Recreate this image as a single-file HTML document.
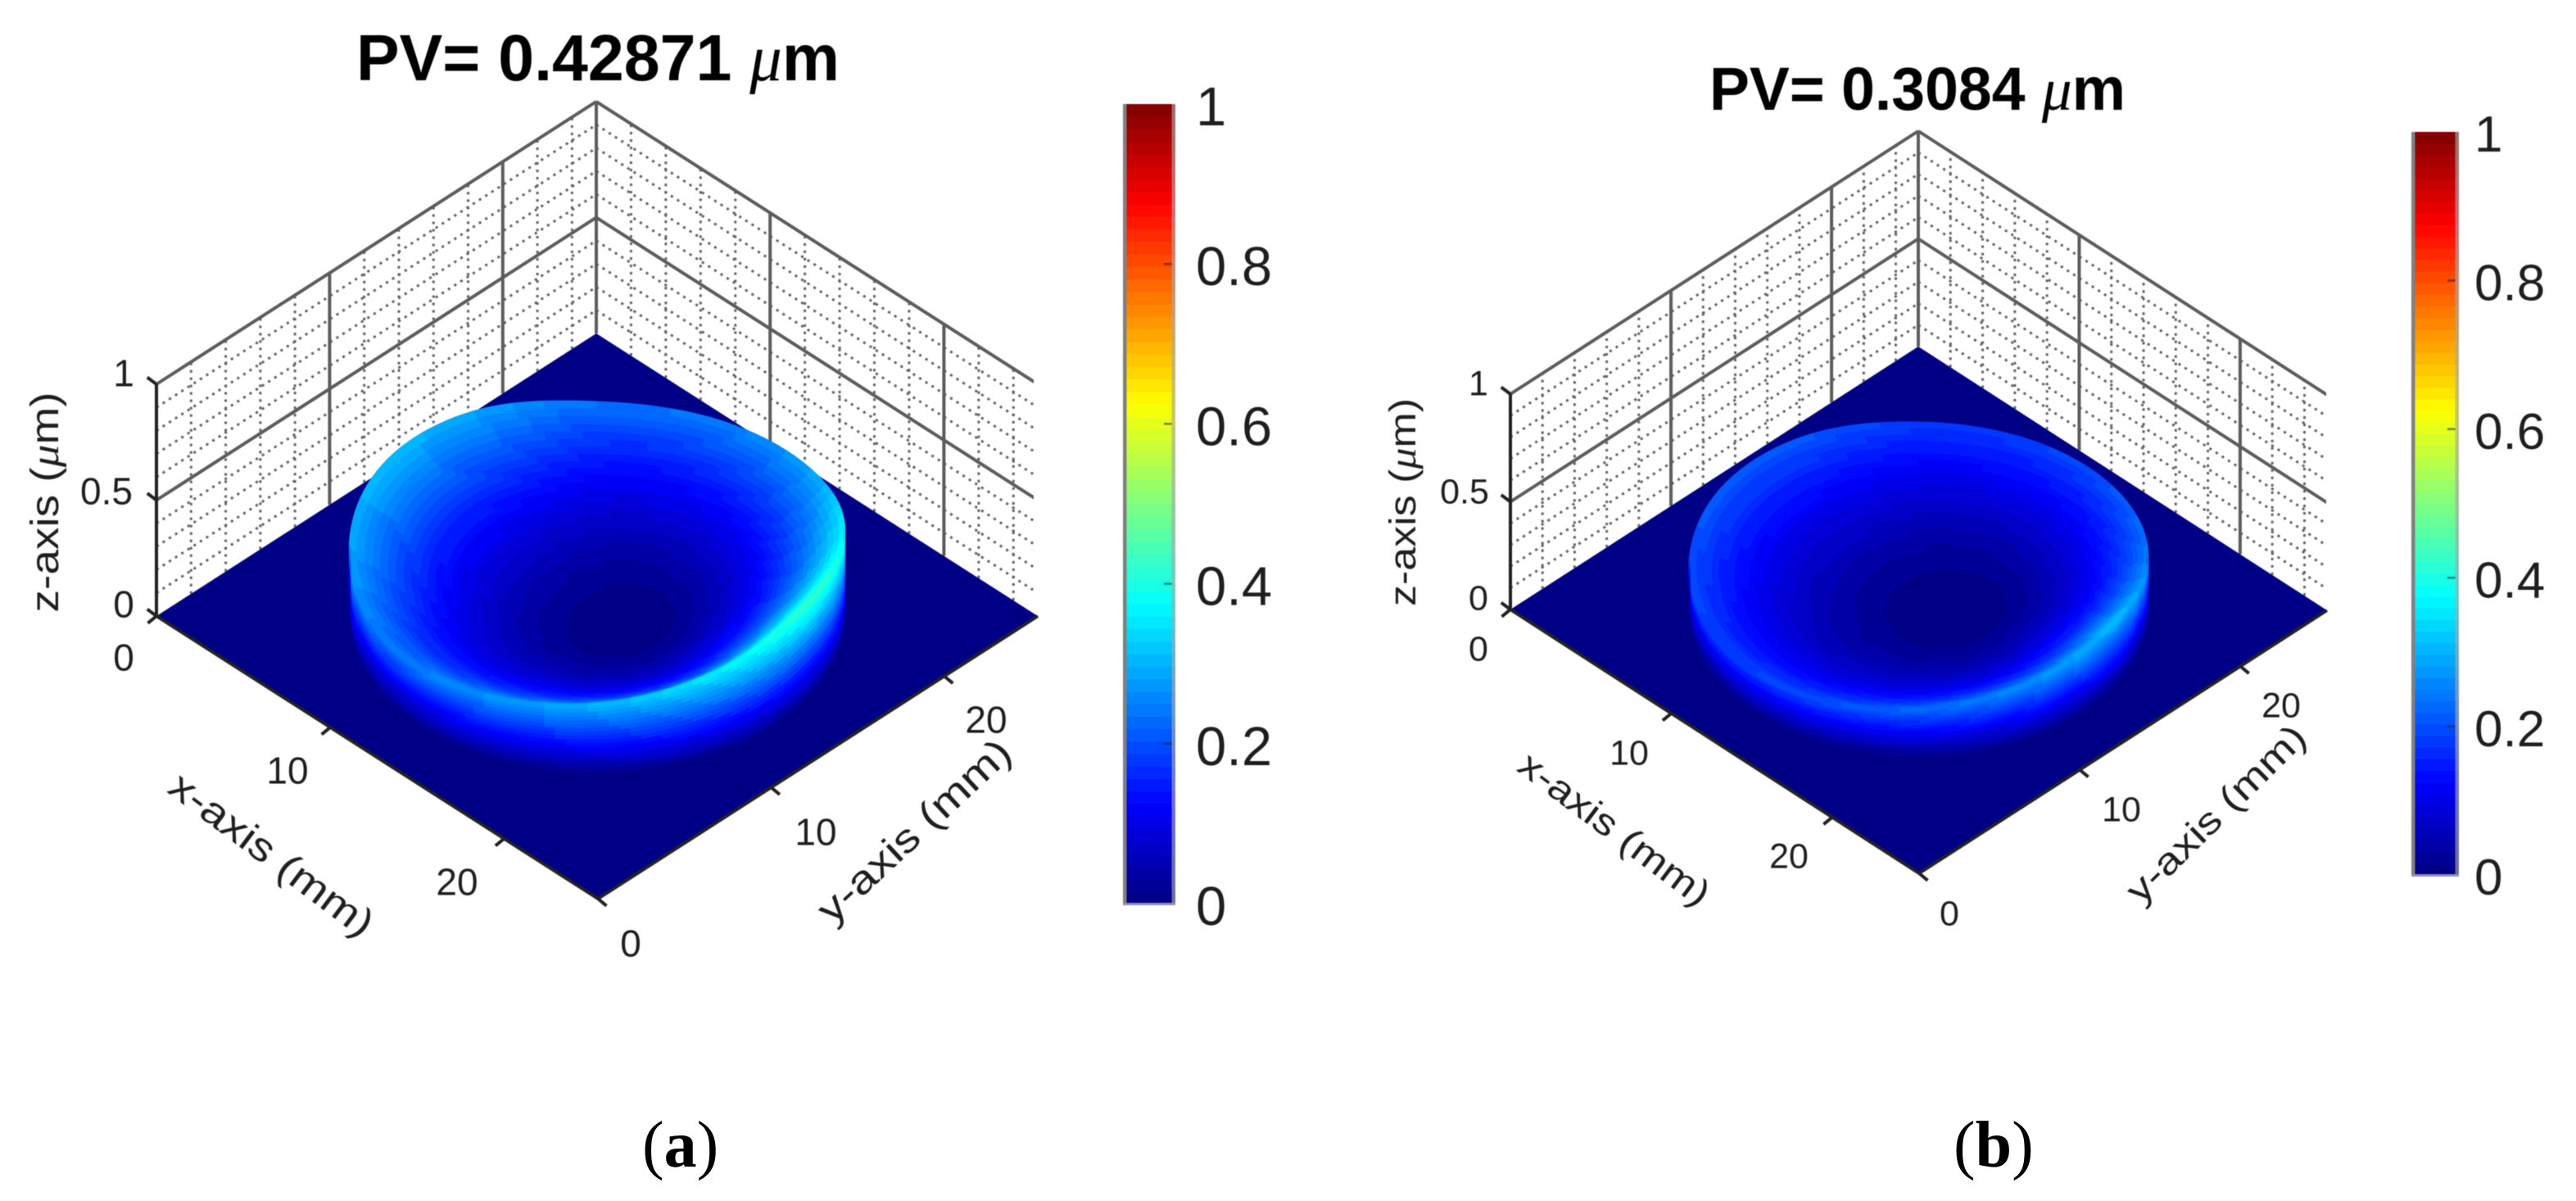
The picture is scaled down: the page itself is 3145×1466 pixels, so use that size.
<!DOCTYPE html>
<html lang="en">
<head>
<meta charset="utf-8">
<title>PV surface maps</title>
<style>
html,body{margin:0;padding:0;background:#fff;}
body{width:3145px;height:1466px;overflow:hidden;}
svg{display:block;}
text{font-family:"Liberation Sans",sans-serif;fill:#1e1e1e;}
.title{font-weight:bold;fill:#000;}
.mu{font-family:"Liberation Serif",serif;font-style:italic;font-weight:normal;}
.cap{font-family:"Liberation Serif",serif;fill:#000;}
#plots{filter:blur(0.55px);}
</style>
</head>
<body>
<svg id="figure" xmlns="http://www.w3.org/2000/svg" width="3145" height="1466" viewBox="0 0 3145 1466">
  <rect width="3145" height="1466" fill="#fff"/>
  <g id="plots">
    <g id="panel-a"></g>
    <g id="panel-b"></g>
    <text class="title" x="435" y="98" font-size="80" textLength="590" lengthAdjust="spacingAndGlyphs">PV= 0.42871 <tspan class="mu">μ</tspan>m</text>
    <text class="title" x="2087" y="134" font-size="74" textLength="508" lengthAdjust="spacingAndGlyphs">PV= 0.3084 <tspan class="mu">μ</tspan>m</text>
    <text font-size="48" text-anchor="middle" transform="translate(71,613) rotate(-90)" textLength="269" lengthAdjust="spacingAndGlyphs">z-axis  (<tspan class="mu">μ</tspan>m)</text>
    <text font-size="48" text-anchor="middle" transform="translate(322,1056) rotate(37)" textLength="299" lengthAdjust="spacingAndGlyphs">x-axis (mm)</text>
    <text font-size="48" text-anchor="middle" transform="translate(1127,1026) rotate(-43)" textLength="304" lengthAdjust="spacingAndGlyphs">y-axis (mm)</text>
    <text font-size="45" text-anchor="middle" transform="translate(1728,613) rotate(-90)" textLength="254" lengthAdjust="spacingAndGlyphs">z-axis  (<tspan class="mu">μ</tspan>m)</text>
    <text font-size="45" text-anchor="middle" transform="translate(1962,1024) rotate(37)" textLength="280" lengthAdjust="spacingAndGlyphs">x-axis (mm)</text>
    <text font-size="45" text-anchor="middle" transform="translate(2716,1004) rotate(-44.6)" textLength="288" lengthAdjust="spacingAndGlyphs">y-axis (mm)</text>
  </g>
  <text class="cap" x="784" y="1424" font-size="80">(<tspan font-weight="bold">a</tspan>)</text>
  <text class="cap" x="2385" y="1424" font-size="80">(<tspan font-weight="bold">b</tspan>)</text>
</svg>
<script>
// ---------- data ----------
const axisRangeMm = 25.4;
const zTickValues = [0, 0.5, 1];
const zTickLabels = ["0", "0.5", "1"];
const xTickValues = [0, 10, 20];
const xTickLabels = ["0", "10", "20"];
const yTickValues = [0, 10, 20];
const yTickLabels = ["0", "10", "20"];
const minorGridMm = [2, 4, 6, 8, 12, 14, 16, 18, 22, 24];
const minorGridZ = [0.1, 0.2, 0.3, 0.4, 0.6, 0.7, 0.8, 0.9];
const colorbarTicks = [0, 0.2, 0.4, 0.6, 0.8, 1];
const colorbarLabels = ["0", "0.2", "0.4", "0.6", "0.8", "1"];
const colorLevels = 64;

// rim of the disc: view angle round the rim (0 = right, 90 = front) and height in um
const rimViewAnglesDeg = [0, 30, 60, 90, 120, 150, 180, 210, 240, 270, 300, 330];
const rimHeightsA = [0.37, 0.4287, 0.37, 0.31, 0.27, 0.25, 0.29, 0.31, 0.29, 0.24, 0.25, 0.29];
const rimHeightsB = [0.25, 0.3084, 0.27, 0.23, 0.20, 0.19, 0.20, 0.215, 0.21, 0.185, 0.19, 0.21];
// bowl profile: fraction of the way from lowest point to rim, and fraction of rim height
const bowlRadialFraction = [0, 0.1, 0.2, 0.3, 0.4, 0.5, 0.6, 0.7, 0.8, 0.9, 1];
const bowlHeightFraction = [0, 0.01, 0.04, 0.09, 0.16, 0.25, 0.36, 0.49, 0.64, 0.81, 1];
const discCentreMm = [12.7, 12.7];
const discRadiusMm = [10.1];
const lowestPointA = [14.26, 13.08];
const lowestPointB = [14.3, 13.7];

// ---------- layout ----------
const layoutA = {
  group: 'panel-a', left: [191, 752], top: [728, 407], bottom: [730, 1097], right: [1266, 752],
  zScale: 283, clipX: 1262, tickFont: 46, cbFont: 67,
  cb: {x0: 1371, x1: 1435, top: 127, bottom: 1103, labelX: 1460},
  zLabelPos: [[151, 737], [130, 599], [151, 455]],
  xLabelPos: [[151, 802], [351, 940], [558, 1076]],
  yLabelPos: [[770, 1151], [996, 1015], [1204, 878]]
};
const layoutB = {
  group: 'panel-b', left: [1844, 744], top: [2342, 423], bottom: [2343, 1066], right: [2844, 744],
  zScale: 263, clipX: 2840, tickFont: 43, cbFont: 62,
  cb: {x0: 2944, x1: 3002, top: 161, bottom: 1068, labelX: 3021},
  zLabelPos: [[1805, 729], [1788, 599], [1805, 467]],
  xLabelPos: [[1805, 791], [1989, 918], [2184, 1044]],
  yLabelPos: [[2380, 1114], [2590, 987], [2785, 860]]
};

const NS = 'http://www.w3.org/2000/svg';
function make(tag, attrs, parent) {
  const el = document.createElementNS(NS, tag);
  for (const k in attrs) el.setAttribute(k, attrs[k]);
  parent.appendChild(el);
  return el;
}
function jet(z) {
  const idx = Math.max(0, Math.min(colorLevels - 1, Math.floor(z * colorLevels)));
  const v = (idx + 0.5) / colorLevels;
  const ch = c => Math.round(255 * Math.max(0, Math.min(1, 1.5 - Math.abs(4 * v - c))));
  return 'rgb(' + ch(3) + ',' + ch(2) + ',' + ch(1) + ')';
}
function makeProjection(L) {
  return function (x, y, z) {
    const u = x / axisRangeMm, w = y / axisRangeMm;
    return [
      L.left[0] + u * (L.bottom[0] - L.left[0]) + w * (L.top[0] - L.left[0]),
      L.left[1] + u * (L.bottom[1] - L.left[1]) + w * (L.top[1] - L.left[1]) - z * L.zScale
    ];
  };
}
function rimHeightAt(heights, deg) {
  const n = heights.length;
  const step = rimViewAnglesDeg[1] - rimViewAnglesDeg[0];
  const p = (((deg - rimViewAnglesDeg[0]) % 360) + 360) % 360 / step;
  const i = Math.floor(p), t = p - i;
  const a = heights[(i - 1 + n) % n], b = heights[i % n], c = heights[(i + 1) % n], d = heights[(i + 2) % n];
  return 0.5 * (2 * b + (c - a) * t + (2 * a - 5 * b + 4 * c - d) * t * t + (3 * b - a - 3 * c + d) * t * t * t);
}
function bowlFraction(t) {
  const n = bowlRadialFraction.length;
  for (let i = 1; i < n; i++) {
    if (t <= bowlRadialFraction[i]) {
      const f = (t - bowlRadialFraction[i - 1]) / (bowlRadialFraction[i] - bowlRadialFraction[i - 1]);
      return bowlHeightFraction[i - 1] + f * (bowlHeightFraction[i] - bowlHeightFraction[i - 1]);
    }
  }
  return bowlHeightFraction[n - 1];
}
function ptsAttr(pts) {
  return pts.map(p => p[0].toFixed(1) + ',' + p[1].toFixed(1)).join(' ');
}

function drawPanel(L, rimHeights, lowest) {
  const g = document.getElementById(L.group);
  const proj = makeProjection(L);
  const R = axisRangeMm;

  // ----- walls -----
  const clipId = L.group + '-clip';
  const defs = make('defs', {}, g);
  const clip = make('clipPath', {id: clipId}, defs);
  make('rect', {x: 0, y: 0, width: L.clipX, height: 1466}, clip);
  const walls = make('g', {'clip-path': 'url(#' + clipId + ')'}, g);
  
  

  const minorStyle = {stroke: '#666', 'stroke-width': 3, 'stroke-dasharray': '3.2 5.8', fill: 'none'};
  function seg(a, b, style) {
    return make('line', Object.assign({x1: a[0], y1: a[1], x2: b[0], y2: b[1]}, style), walls);
  }
  minorGridMm.forEach(m => {
    const l1 = seg(proj(0, m, 0), proj(0, m, 1), minorStyle);
    
    
    const l2 = seg(proj(m, R, 0), proj(m, R, 1), minorStyle);
    
    
  });
  minorGridZ.forEach(z => {
    const l1 = seg(proj(0, 0, z), proj(0, R, z), minorStyle);
    
    
    const l2 = seg(proj(0, R, z), proj(R, R, z), minorStyle);
    
    
  });
  const majorStyle = {stroke: '#5c5c5c', 'stroke-width': 4, fill: 'none'};
  xTickValues.slice(1).forEach(m => {
    const l = seg(proj(m, R, 0), proj(m, R, 1), majorStyle);
    
    
  });
  yTickValues.slice(1).forEach(m => {
    const l = seg(proj(0, m, 0), proj(0, m, 1), majorStyle);
    
    
  });
  zTickValues.slice(1).forEach(z => {
    const l1 = seg(proj(0, 0, z), proj(0, R, z), majorStyle);
    
    
    const l2 = seg(proj(0, R, z), proj(R, R, z), majorStyle);
    
    
  });
  const apexLine = seg(proj(0, R, 0), proj(0, R, 1), majorStyle);
  
  

  // ----- floor -----
  const floor = make('polygon', {points: ptsAttr([proj(0, 0, 0), proj(R, 0, 0), proj(R, R, 0), proj(0, R, 0)]), fill: jet(0)}, g);
  
  

  // ----- bowl surface -----
  const surface = make('g', {}, g);
  
  
  const nA = 144, nT = 36;
  function rimPoint(deg) {
    const psi = (45 - deg) * Math.PI / 180;
    return [discCentreMm[0] + discRadiusMm[0] * Math.cos(psi), discCentreMm[1] + discRadiusMm[0] * Math.sin(psi)];
  }
  function bowlPoint(deg, t) {
    const rp = rimPoint(deg);
    return [
      lowest[0] + t * (rp[0] - lowest[0]),
      lowest[1] + t * (rp[1] - lowest[1]),
      rimHeightAt(rimHeights, deg) * bowlFraction(t)
    ];
  }
  const cells = [];
  for (let j = 0; j < nA; j++) {
    const d0 = j * 360 / nA, d1 = (j + 1) * 360 / nA;
    for (let i = 0; i < nT; i++) {
      const t0 = i / nT, t1 = (i + 1) / nT;
      const q = [bowlPoint(d0, t0), bowlPoint(d1, t0), bowlPoint(d1, t1), bowlPoint(d0, t1)];
      const zMid = (q[0][2] + q[1][2] + q[2][2] + q[3][2]) / 4;
      const depth = (q[0][0] - q[0][1] + q[2][0] - q[2][1]) / 2;
      cells.push({q: q, z: zMid, depth: depth});
    }
  }
  cells.sort((a, b) => a.depth - b.depth);
  cells.forEach(c => {
    const col = jet(c.z);
    const el = make('polygon', {points: ptsAttr(c.q.map(p => proj(p[0], p[1], p[2]))), fill: col, stroke: col, 'stroke-width': 1}, surface);
    
    
  });

  // ----- skirt: vertical wall from rim to floor on the near side -----
  const skirt = make('g', {}, g);
  
  
  const nS = 18;
  for (let j = -2; j < nA / 2 + 2; j++) {
    const d0 = j * 360 / nA, d1 = (j + 1) * 360 / nA;
    const r0 = rimPoint(d0), r1 = rimPoint(d1);
    const h0 = rimHeightAt(rimHeights, d0), h1 = rimHeightAt(rimHeights, d1);
    for (let k = 0; k < nS; k++) {
      const f0 = k / nS, f1 = (k + 1) / nS;
      const col = jet((h0 + h1) / 2 * (f0 + f1) / 2);
      const el = make('polygon', {
        points: ptsAttr([proj(r0[0], r0[1], h0 * f0), proj(r1[0], r1[1], h1 * f0), proj(r1[0], r1[1], h1 * f1), proj(r0[0], r0[1], h0 * f1)]),
        fill: col, stroke: col, 'stroke-width': 1
      }, skirt);
      
      
    }
  }

  // ----- axes -----
  const axisStyle = {stroke: '#222', 'stroke-width': 4, fill: 'none'};
  function axisLine(a, b) {
    return make('line', Object.assign({x1: a[0], y1: a[1], x2: b[0], y2: b[1]}, axisStyle), g);
  }
  const xLine = axisLine(proj(0, 0, 0), proj(R, 0, 0));
  
  
  const yLine = axisLine(proj(R, 0, 0), proj(R, R, 0));
  
  
  const zLine = axisLine(proj(0, 0, 0), proj(0, 0, 1));
  
  

  const tickLen = 14;
  xTickValues.forEach((v, i) => {
    const p = proj(v, 0, 0);
    const t = axisLine(p, [p[0] - tickLen * 0.75, p[1] + tickLen * 0.62]);
    
    
    const lab = make('text', {x: L.xLabelPos[i][0], y: L.xLabelPos[i][1] + L.tickFont * 0.358, 'font-size': L.tickFont, 'text-anchor': 'middle'}, g);
    lab.textContent = xTickLabels[i];
    
    
  });
  yTickValues.forEach((v, i) => {
    const p = proj(R, v, 0);
    const t = axisLine(p, [p[0] + tickLen * 0.75, p[1] + tickLen * 0.62]);
    
    
    const lab = make('text', {x: L.yLabelPos[i][0], y: L.yLabelPos[i][1] + L.tickFont * 0.358, 'font-size': L.tickFont, 'text-anchor': 'middle'}, g);
    lab.textContent = yTickLabels[i];
    
    
  });
  zTickValues.forEach((v, i) => {
    const p = proj(0, 0, v);
    const t = axisLine(p, [p[0] - tickLen * 0.8, p[1] - tickLen * 0.6]);
    
    
    const lab = make('text', {x: L.zLabelPos[i][0], y: L.zLabelPos[i][1] + L.tickFont * 0.358, 'font-size': L.tickFont, 'text-anchor': 'middle'}, g);
    lab.textContent = zTickLabels[i];
    
    
  });

  // ----- colorbar -----
  const cb = L.cb;
  const cbGroup = make('g', {}, g);
  
  
  const cbY = v => cb.bottom - v * (cb.bottom - cb.top);
  for (let i = 0; i < colorLevels; i++) {
    const v0 = i / colorLevels, v1 = (i + 1) / colorLevels;
    const band = make('rect', {x: cb.x0, y: cbY(v1), width: cb.x1 - cb.x0, height: cbY(v0) - cbY(v1) + 0.6, fill: jet((v0 + v1) / 2)}, cbGroup);
    
    
  }
  const cbLeft = make('rect', {x: cb.x0, y: cb.top, width: 4.5, height: cb.bottom - cb.top, fill: '#808080'}, cbGroup);
  
  
  const cbRight = make('rect', {x: cb.x1 - 4.5, y: cb.top, width: 4.5, height: cb.bottom - cb.top, fill: '#a8a8a8', 'fill-opacity': 0.65}, cbGroup);
  
  
  const cbBottom = make('rect', {x: cb.x0, y: cb.bottom - 1, width: cb.x1 - cb.x0, height: 3, fill: '#9090b0'}, cbGroup);
  
  
  colorbarTicks.forEach((v, i) => {
    if (v > 0 && v < 1) {
      const tk = make('line', {x1: cb.x1 - 14, x2: cb.x1 - 4.5, y1: cbY(v), y2: cbY(v), stroke: '#222', 'stroke-opacity': 0.6, 'stroke-width': 2.4}, cbGroup);
      
      
    }
    const lab = make('text', {x: cb.labelX, y: cbY(v) + L.cbFont * 0.358 + 2, 'font-size': L.cbFont}, cbGroup);
    lab.textContent = colorbarLabels[i];
    
    
  });
}

drawPanel(layoutA, rimHeightsA, lowestPointA);
drawPanel(layoutB, rimHeightsB, lowestPointB);
</script>
</body>
</html>
